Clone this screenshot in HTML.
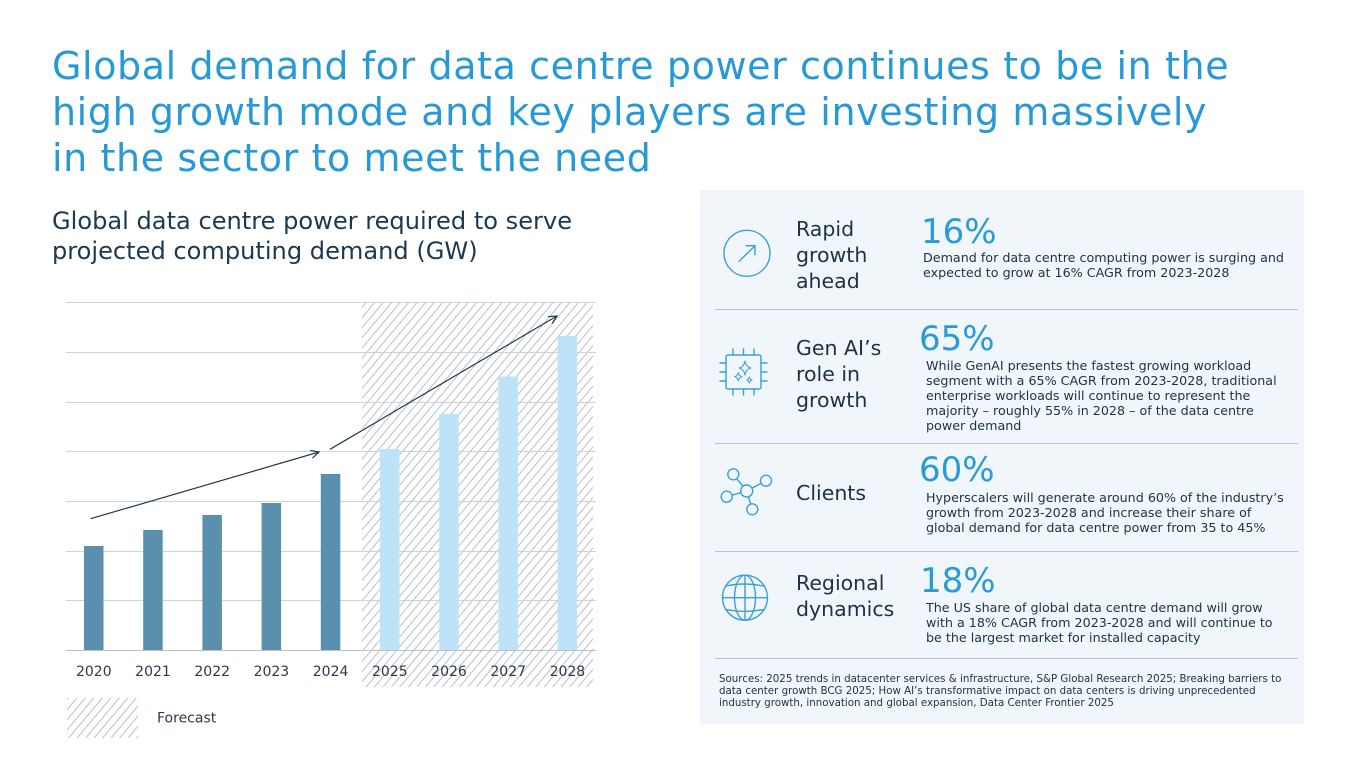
<!DOCTYPE html>
<html><head><meta charset="utf-8">
<style>
*{margin:0;padding:0;box-sizing:border-box}
body{width:1360px;height:765px;background:#fff;position:relative;overflow:hidden;font-family:"DejaVu Sans","Liberation Sans",sans-serif}
.t{position:absolute;white-space:nowrap}
.title{left:52px;top:43px;font-size:38px;line-height:46px;color:#2699d6;letter-spacing:0.6px}
.sub{left:52px;top:206px;font-size:24.1px;line-height:30px;color:#1b3a52}
.panel{position:absolute;left:700px;top:190px;width:604px;height:534px;background:#f1f6fb}
.div{position:absolute;left:715px;width:583px;height:1px;background:#b8c3cb}
.lab{left:796px;font-size:20.5px;line-height:26px;color:#1d3245}
.pct{font-size:34px;line-height:34px;color:#2a9bd8}
.desc{font-size:12.7px;line-height:15px;color:#1d3245}
.src{left:719px;top:673px;font-size:10.25px;line-height:12.2px;color:#1d3245}
</style></head><body>
<div class="t title">Global demand for data centre power continues to be in the<br>high growth mode and key players are investing massively<br>in the sector to meet the need</div>
<div class="t sub">Global data centre power required to serve<br>projected computing demand (GW)</div>

<div class="panel"></div>
<div class="div" style="top:309px"></div>
<div class="div" style="top:443px"></div>
<div class="div" style="top:551px"></div>
<div class="div" style="top:658px"></div>

<div class="t lab" style="top:215.6px">Rapid<br>growth<br>ahead</div>
<div class="t lab" style="top:335px">Gen AI’s<br>role in<br>growth</div>
<div class="t lab" style="top:480px">Clients</div>
<div class="t lab" style="top:570px">Regional<br>dynamics</div>

<div class="t pct" style="left:921px;top:214.5px">16%</div>
<div class="t pct" style="left:919px;top:322.3px">65%</div>
<div class="t pct" style="left:919px;top:453px">60%</div>
<div class="t pct" style="left:920px;top:564px">18%</div>

<div class="t desc" style="left:923px;top:249.8px">Demand for data centre computing power is surging and<br>expected to grow at 16% CAGR from 2023-2028</div>
<div class="t desc" style="left:926px;top:358px">While GenAI presents the fastest growing workload<br>segment with a 65% CAGR from 2023-2028, traditional<br>enterprise workloads will continue to represent the<br>majority – roughly 55% in 2028 – of the data centre<br>power demand</div>
<div class="t desc" style="left:926px;top:489.8px">Hyperscalers will generate around 60% of the industry’s<br>growth from 2023-2028 and increase their share of<br>global demand for data centre power from 35 to 45%</div>
<div class="t desc" style="left:926px;top:600.4px">The US share of global data centre demand will grow<br>with a 18% CAGR from 2023-2028 and will continue to<br>be the largest market for installed capacity</div>
<div class="t src">Sources: 2025 trends in datacenter services &amp; infrastructure, S&amp;P Global Research 2025; Breaking barriers to<br>data center growth BCG 2025; How AI’s transformative impact on data centers is driving unprecedented<br>industry growth, innovation and global expansion, Data Center Frontier 2025</div>

<svg width="1360" height="765" style="position:absolute;left:0;top:0" xmlns="http://www.w3.org/2000/svg">
<defs>
<pattern id="h" width="6.5" height="6.5" patternUnits="userSpaceOnUse" patternTransform="rotate(40)">
<line x1="0.5" y1="0" x2="0.5" y2="6.5" stroke="#bcc1c5" stroke-width="1"/>
</pattern>
<marker id="a" markerWidth="10" markerHeight="10" refX="9" refY="5" orient="auto" markerUnits="userSpaceOnUse">
<path d="M1,1 L9,5 L1,9" fill="none" stroke="#1f3a4d" stroke-width="1.2"/>
</marker>
</defs>
<!-- hatch region -->
<rect x="362" y="302" width="231" height="385" fill="url(#h)"/>
<rect x="67" y="698" width="71" height="40" fill="url(#h)"/>
<!-- gridlines -->
<g stroke="#cbd4db" stroke-width="1">
<line x1="66" y1="302.5" x2="596" y2="302.5"/>
<line x1="66" y1="352.5" x2="596" y2="352.5"/>
<line x1="66" y1="402.5" x2="596" y2="402.5"/>
<line x1="66" y1="451.5" x2="596" y2="451.5"/>
<line x1="66" y1="501.5" x2="596" y2="501.5"/>
<line x1="66" y1="551.5" x2="596" y2="551.5"/>
<line x1="66" y1="600.5" x2="596" y2="600.5"/>
</g>
<line x1="66" y1="650.5" x2="596" y2="650.5" stroke="#b7c2ca" stroke-width="1"/>
<!-- bars -->
<g fill="#5b8fae">
<rect x="84" y="546" width="19.5" height="104"/>
<rect x="143.2" y="530" width="19.5" height="120"/>
<rect x="202.4" y="515" width="19.5" height="135"/>
<rect x="261.6" y="503" width="19.5" height="147"/>
<rect x="320.8" y="474" width="19.5" height="176"/>
</g>
<g fill="#bee3f8">
<rect x="380" y="449" width="19.5" height="201"/>
<rect x="439.2" y="414" width="19.5" height="236"/>
<rect x="498.4" y="376.5" width="19.5" height="273.5"/>
<rect x="557.6" y="336" width="19.5" height="314"/>
</g>
<!-- arrows -->
<line x1="90.6" y1="518.7" x2="319" y2="452" stroke="#1f3a4d" stroke-width="1.2" marker-end="url(#a)"/>
<line x1="330" y1="449.3" x2="557" y2="316" stroke="#1f3a4d" stroke-width="1.2" marker-end="url(#a)"/>
<!-- labels -->
<g font-family="DejaVu Sans, Liberation Sans, sans-serif" font-size="14" fill="#2b3b4b" text-anchor="middle">
<text x="93.8" y="676">2020</text>
<text x="153" y="676">2021</text>
<text x="212.2" y="676">2022</text>
<text x="271.4" y="676">2023</text>
<text x="330.6" y="676">2024</text>
<text x="389.8" y="676">2025</text>
<text x="449" y="676">2026</text>
<text x="508.2" y="676">2027</text>
<text x="567.4" y="676">2028</text>
<text x="157" y="722.7" text-anchor="start">Forecast</text>
</g>
<!-- icons -->
<g fill="none" stroke="#3b9fd8" stroke-width="1.4" stroke-linecap="round" stroke-linejoin="round">
<circle cx="747" cy="253.3" r="23"/>
<line x1="739" y1="261.5" x2="755" y2="245.7"/>
<polyline points="746,245.7 755,245.7 755,254.7"/>
<!-- chip -->
<rect x="726" y="355" width="35" height="34" rx="2"/>
<line x1="733" y1="349" x2="733" y2="355"/><line x1="743.5" y1="349" x2="743.5" y2="355"/><line x1="754" y1="349" x2="754" y2="355"/>
<line x1="733" y1="389" x2="733" y2="395"/><line x1="743.5" y1="389" x2="743.5" y2="395"/><line x1="754" y1="389" x2="754" y2="395"/>
<line x1="720" y1="363" x2="726" y2="363"/><line x1="720" y1="372" x2="726" y2="372"/><line x1="720" y1="381" x2="726" y2="381"/>
<line x1="761" y1="363" x2="767" y2="363"/><line x1="761" y1="372" x2="767" y2="372"/><line x1="761" y1="381" x2="767" y2="381"/>
<path d="M745,361 Q746,367 751,368 Q746,369 745,375 Q744,369 739,368 Q744,367 745,361Z" stroke-width="1.1"/>
<path d="M738.3,372.5 Q739,376 742,376.7 Q739,377.4 738.3,381 Q737.6,377.4 734.6,376.7 Q737.6,376 738.3,372.5Z" stroke-width="1"/>
<path d="M749.3,377 Q749.8,379.5 752,380 Q749.8,380.5 749.3,383 Q748.8,380.5 746.6,380 Q748.8,379.5 749.3,377Z" stroke-width="1"/>
<!-- network -->
<line x1="746.7" y1="491" x2="733.3" y2="474.3"/>
<line x1="746.7" y1="491" x2="766" y2="480.7"/>
<line x1="746.7" y1="491" x2="726.7" y2="496.7"/>
<line x1="746.7" y1="491" x2="752.3" y2="509.3"/>
<circle cx="746.7" cy="491" r="6" fill="#f1f6fb"/>
<circle cx="733.3" cy="474.3" r="5.5" fill="#f1f6fb"/>
<circle cx="766" cy="480.7" r="5.5" fill="#f1f6fb"/>
<circle cx="726.7" cy="496.7" r="5.5" fill="#f1f6fb"/>
<circle cx="752.3" cy="509.3" r="5.5" fill="#f1f6fb"/>
<!-- globe -->
<circle cx="745" cy="597.7" r="22.5"/>
<ellipse cx="745" cy="597.7" rx="10.5" ry="22.5"/>
<line x1="745" y1="575.2" x2="745" y2="620.2"/>
<line x1="722.5" y1="597.7" x2="767.5" y2="597.7"/>
<path d="M726,586 Q745,582 764,586"/>
<path d="M726,609.4 Q745,613.4 764,609.4"/>
</g>
</svg>
</body></html>
